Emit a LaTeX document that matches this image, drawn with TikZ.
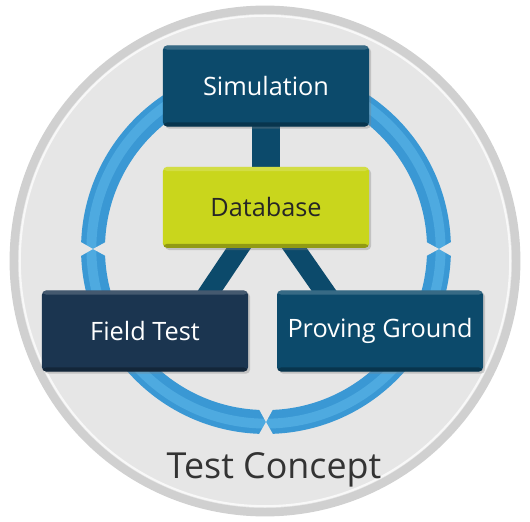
\documentclass[tikz,border=0pt]{standalone}
\usepackage{fontspec}
\setmainfont{Open Sans}
\usetikzlibrary{positioning,calc,shadows,backgrounds}
\definecolor{simblue}{HTML}{0C4A6B}
\definecolor{fieldnavy}{HTML}{1B3550}
\definecolor{dbgreen}{HTML}{C9D61C}
\definecolor{ringblue}{HTML}{3A98D4}
\definecolor{ringlight}{HTML}{4EAAE0}
\definecolor{discgray}{HTML}{E6E6E6}
\definecolor{rimgray}{HTML}{D0D0D0}
\definecolor{captiongray}{HTML}{333333}
\pgfdeclarelayer{back}
\pgfsetlayers{back,background,main}

\begin{document}
\begin{tikzpicture}[
		stage/.style={rounded corners=3pt, minimum width=5.15cm, minimum height=2.03cm, inner sep=0pt,
			font=\fontsize{18}{22}\selectfont, text=white,
			drop shadow={opacity=0.35, shadow xshift=1.5pt, shadow yshift=-1.5pt},
			path picture={
				\fill[white, opacity=0.18] (path picture bounding box.north west) rectangle ([yshift=-3pt]path picture bounding box.north east);
				\fill[black, opacity=0.28] (path picture bounding box.south west) rectangle ([yshift=3pt]path picture bounding box.south east);
			}},
		bar/.style={simblue, line width=20pt},
		diagbar/.style={simblue, line width=14.5pt},
		notch/.style={fill=discgray}
		]
		
		\useasboundingbox (-6.65,-6.825) rectangle (6.6,6.225);
		
		% --------------------------------------------------
		% Grey disc and blue ring with three notches
		% --------------------------------------------------
		\begin{pgfonlayer}{back}
			\coordinate (D) at (-0.025,-0.3);
			\fill[discgray] (D) circle (6.35);
			\draw[rimgray, line width=6pt] (D) circle (6.28);
			\draw[white!70!discgray, line width=1.5pt] (D) circle (6.13);
			
			\coordinate (O) at (0,0);
			\def\r{4.325}
			\draw[ringblue, line width=17pt] (O) circle (\r);
			\draw[ringlight, line width=7pt] (O) circle (\r+0.04);
			
			\foreach \a in {0,180,270}{
				\fill[notch] (\a:\r) -- (\a+2.7:4.72) -- (\a-2.7:4.72) -- cycle;
				\fill[notch] (\a:\r) -- (\a+3.2:3.93) -- (\a-3.2:3.93) -- cycle;
			}
		\end{pgfonlayer}
		
		% --------------------------------------------------
		% Boxes
		% --------------------------------------------------
		\node[stage, fill=simblue] (Sim) at (0,4.075) {Simulation};
		\node[stage, fill=dbgreen, text=black!85] (DB) at (0,1.04) {Database};
		\node[stage, fill=fieldnavy] (FT) at (-3.025,-2.05) {Field Test};
		\node[stage, fill=simblue] (PG) at (2.85,-2.05) {Proving Ground};
		
		% --------------------------------------------------
		% Links behind the boxes
		% --------------------------------------------------
		\begin{pgfonlayer}{background}
			\draw[bar] (Sim.center) -- (DB.center);
			\draw[diagbar] (DB.center) -- ($(FT.center)+(0.95,0)$);
			\draw[diagbar] (DB.center) -- ($(PG.center)+(-0.7,0)$);
		\end{pgfonlayer}
		
		% --------------------------------------------------
		% Caption
		% --------------------------------------------------
		\node[anchor=base, text=captiongray, font=\fontsize{25.5}{30}\selectfont] (cap) at (0.2,-5.725) {Test Concept};
		
	\end{tikzpicture}
\end{document}
